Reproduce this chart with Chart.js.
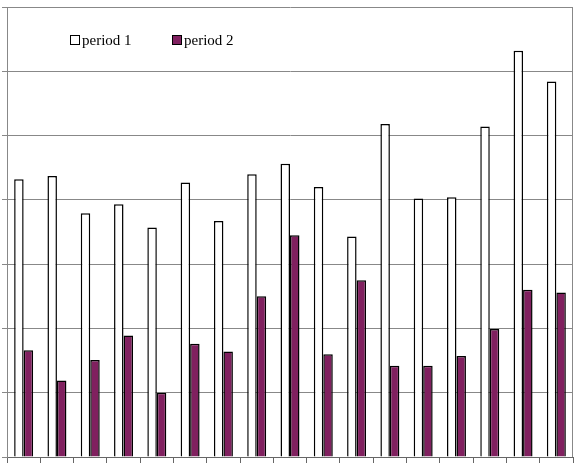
<!DOCTYPE html>
<html>
<head>
<meta charset="utf-8">
<script src="https://cdn.jsdelivr.net/npm/chart.js@4.4.0/dist/chart.umd.min.js"></script>
<style>
    html, body { margin: 0; padding: 0; background: #fff; }
    #wrap { position: relative; width: 577px; height: 467px; }
    #legend {
        position: absolute; left: 70px; top: 32px;
        font-family: "Liberation Serif", "Times New Roman", serif;
        font-size: 15px; color: #000; white-space: nowrap;
    }
    .item { position: absolute; top: 0; }
    .box { display: inline-block; width: 8px; height: 8px; border: 1px solid #000; vertical-align: 0; margin-right: 2px; }
</style>
</head>
<body>
<div id="wrap">
    <canvas id="chart" width="577" height="467"></canvas>
    <div id="legend">
        <span class="item" style="left:0"><span class="box" style="background:#fff"></span>period 1</span>
        <span class="item" style="left:102px"><span class="box" style="background:#80205f"></span>period 2</span>
    </div>
</div>
<script>
// values
const categories = ['1', '2', '3', '4', '5', '6', '7', '8', '9', '10', '11', '12', '13', '14', '15', '16', '17'];
const period1 = [43.2, 43.7, 37.9, 39.3, 35.7, 42.7, 36.7, 44.0, 45.6, 42.0, 34.3, 51.8, 40.2, 40.4, 51.4, 63.2, 58.4];
const period2 = [16.6, 11.9, 15.1, 18.9, 10.0, 17.6, 16.4, 25.0, 34.5, 16.0, 27.5, 14.2, 14.2, 15.7, 19.9, 26.0, 25.6];
const yTicks = [0, 10, 20, 30, 40, 50, 60, 70];

// frame round the plot area (right edge)
const frame = {
    id: 'frame',
    afterDraw(chart) {
        const a = chart.chartArea;
        const ctx = chart.ctx;
        ctx.save();
        ctx.strokeStyle = '#888';
        ctx.lineWidth = 1;
        ctx.beginPath();
        ctx.moveTo(Math.round(a.right) - 0.5, a.top);
        ctx.lineTo(Math.round(a.right) - 0.5, a.bottom);
        ctx.stroke();
        ctx.restore();
    }
};

new Chart(document.getElementById('chart'), {
    type: 'bar',
    data: {
        labels: categories,
        datasets: [
            {
                label: 'period 1',
                data: period1,
                backgroundColor: '#ffffff',
                borderColor: '#000000',
                borderWidth: 1.5
            },
            {
                label: 'period 2',
                data: period2,
                backgroundColor: '#80205f',
                borderColor: '#000000',
                borderWidth: 1.5
            }
        ]
    },
    options: {
        responsive: false,
        animation: false,
        layout: { padding: { left: 2, top: 7, right: 4, bottom: 4 } },
        datasets: { bar: { categoryPercentage: 0.57, barPercentage: 1.0 } },
        plugins: {
            legend: { display: false },
            tooltip: { enabled: false }
        },
        scales: {
            x: {
                ticks: { display: false },
                grid: { drawOnChartArea: false, color: '#666', tickLength: 6 },
                border: { color: '#666' }
            },
            y: {
                min: yTicks[0],
                max: yTicks[yTicks.length - 1],
                afterBuildTicks(scale) { scale.ticks = yTicks.map(v => ({ value: v })); },
                ticks: { display: false },
                grid: { color: '#888', tickLength: 5 },
                border: { color: '#888' }
            }
        }
    },
    plugins: [frame]
});
</script>
</body>
</html>
